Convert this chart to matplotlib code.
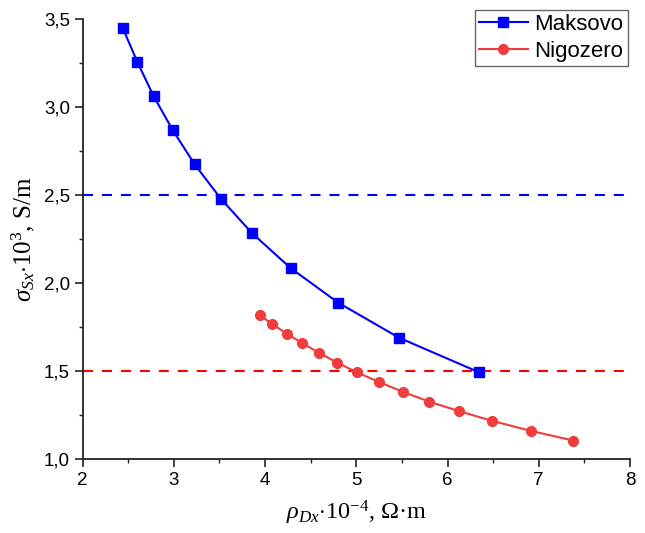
import matplotlib
matplotlib.use("Agg")
import matplotlib.pyplot as plt
from matplotlib.ticker import MultipleLocator, FuncFormatter

# Data
maks_x = [2.44, 2.60, 2.78, 2.99, 3.23, 3.52, 3.86, 4.28, 4.80, 5.47, 6.35]
maks_y = [3.45, 3.257, 3.061, 2.868, 2.674, 2.477, 2.283, 2.086, 1.890, 1.690, 1.493]
nigo_x = [3.94, 4.08, 4.24, 4.41, 4.59, 4.79, 5.01, 5.25, 5.51, 5.80, 6.13, 6.49, 6.91, 7.38]
nigo_y = [1.820, 1.767, 1.713, 1.659, 1.605, 1.549, 1.493, 1.439, 1.383, 1.327, 1.273, 1.218, 1.162, 1.106]
maks_level = 2.5
nigo_level = 1.5
series_names = ["Maksovo", "Nigozero"]

plt.rcParams['mathtext.fontset'] = 'custom'
plt.rcParams['mathtext.rm'] = 'Liberation Serif'
plt.rcParams['mathtext.it'] = 'Liberation Serif:italic'
plt.rcParams['mathtext.bf'] = 'Liberation Serif:bold'

fig = plt.figure(figsize=(6.45, 5.33), dpi=100)
ax = fig.add_axes([82.5/645, (533-459.3)/533, (630-82.5)/645, (459.3-19)/533])

blue = '#0000FF'
red_line = '#F03C3C'

ax.plot(maks_x, maks_y, color=blue, lw=1.5, marker='s', ms=6.5, mec=blue, mfc=blue,
        label=series_names[0], zorder=3)
ax.plot(nigo_x, nigo_y, color=red_line, lw=1.5, marker='o', ms=7, mec=red_line, mfc=red_line,
        label=series_names[1], zorder=3)
ax.axhline(maks_level, color=blue, lw=1.5, linestyle=(0, (4.8, 4.3)), zorder=2)
ax.axhline(nigo_level, color='#FF0000', lw=1.5, linestyle=(0, (4.8, 4.3)), zorder=2)

ax.set_xlim(2, 8)
ax.set_ylim(1.0, 3.5)
ax.xaxis.set_major_locator(MultipleLocator(1))
ax.xaxis.set_minor_locator(MultipleLocator(0.5))
ax.yaxis.set_major_locator(MultipleLocator(0.5))
ax.yaxis.set_minor_locator(MultipleLocator(0.25))
ax.yaxis.set_major_formatter(FuncFormatter(lambda v, p: f"{v:.1f}".replace('.', ',')))
ax.xaxis.set_major_formatter(FuncFormatter(lambda v, p: f"{v:.0f}"))

for s in ['top', 'right']:
    ax.spines[s].set_visible(False)
for s in ['left', 'bottom']:
    ax.spines[s].set_linewidth(1.3)
    ax.spines[s].set_color('#222222')

ax.tick_params(which='major', direction='out', length=6, width=1.2, color='#222222',
               labelsize=13.5, pad=3)
ax.tick_params(which='minor', direction='out', length=3, width=1.0, color='#222222')
for lab in ax.get_xticklabels() + ax.get_yticklabels():
    lab.set_fontfamily('Liberation Sans')

ax.set_xlabel(r'$\rho_{Dx}$$\cdot$10$^{-4}$, Ω·m', fontfamily='Liberation Serif',
              fontsize=17.5, labelpad=7)
ax.set_ylabel(r'$\sigma_{Sx}$$\cdot$10$^{3}$, S/m', fontfamily='Liberation Serif',
              fontsize=18, labelpad=5)

leg = ax.legend(loc='upper right', bbox_to_anchor=(628/645, (533-9.5)/533),
                bbox_transform=fig.transFigure, fancybox=False, framealpha=1,
                edgecolor='#666666', borderpad=0.2, handlelength=2.2,
                handletextpad=0.3, labelspacing=0.25, borderaxespad=0,
                prop={'family': 'Liberation Sans', 'size': 16})
leg.get_frame().set_linewidth(1.0)

fig.savefig('out.png', dpi=100)
